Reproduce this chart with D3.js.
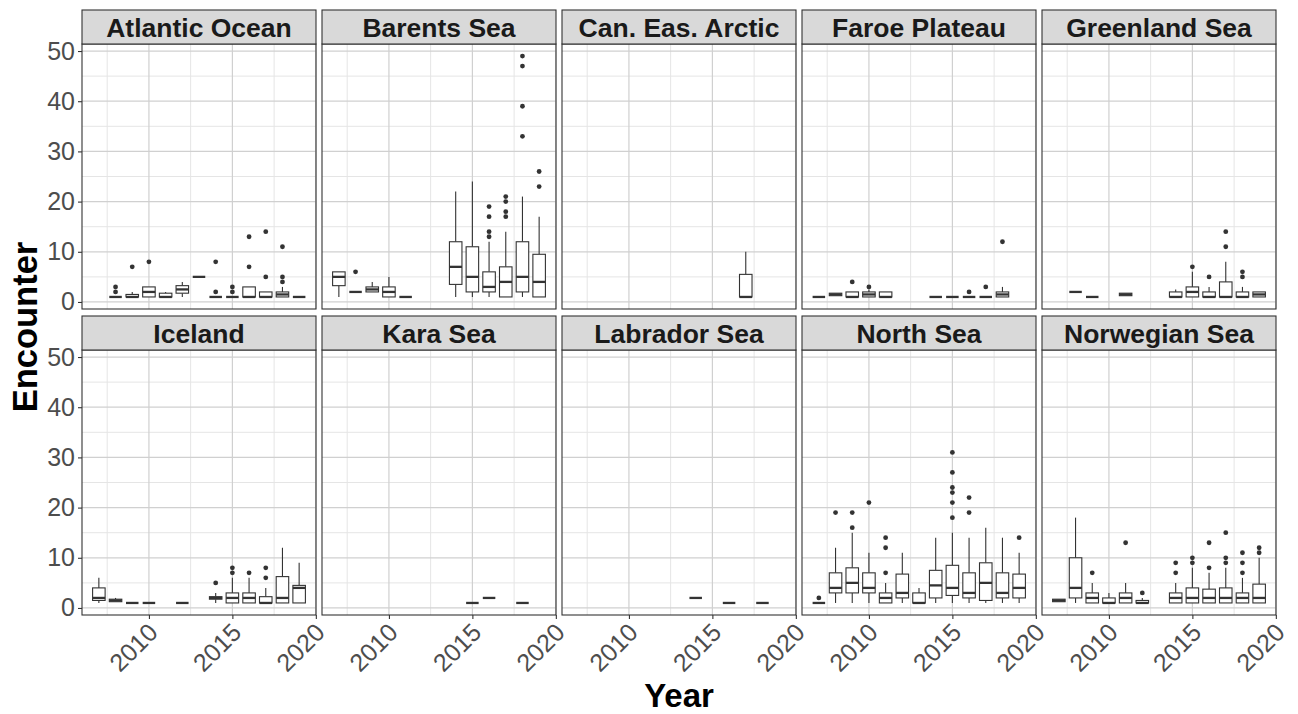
<!DOCTYPE html>
<html>
<head>
<meta charset="utf-8">
<script src="https://cdn.jsdelivr.net/npm/d3@7"></script>
<style>
  body { margin: 0; background: #fff; }
  svg { display: block; font-family: "Liberation Sans", Arial, sans-serif; }
</style>
</head>
<body>
<svg id="chart" width="1298" height="714"></svg>
<script>
// each row: [year, lowerWhisker, q1, median, q3, upperWhisker, outliers]
const atlanticOcean = [
  [2008, 1, 1, 1, 1, 1, [2, 3]],
  [2009, 1, 1, 1, 1.5, 2, [7]],
  [2010, 1, 1, 2, 3, 3, [8]],
  [2011, 1, 1, 1, 1.75, 2, []],
  [2012, 1, 1.75, 2.5, 3.25, 4, []],
  [2013, 5, 5, 5, 5, 5, []],
  [2014, 1, 1, 1, 1, 1, [2, 8]],
  [2015, 1, 1, 1, 1, 1, [2, 3]],
  [2016, 1, 1, 1, 3, 3, [7, 13]],
  [2017, 1, 1, 1, 2, 2, [5, 14]],
  [2018, 1, 1, 1.5, 2, 3, [4, 5, 11]],
  [2019, 1, 1, 1, 1, 1, []]
];
const barentsSea = [
  [2007, 1, 3.25, 5, 6, 6, []],
  [2008, 2, 2, 2, 2, 2, [6]],
  [2009, 2, 2, 2.5, 3, 4, []],
  [2010, 1, 1, 2, 3, 5, []],
  [2011, 1, 1, 1, 1, 1, []],
  [2014, 1, 3.5, 7, 12, 22, []],
  [2015, 1, 2, 5, 11, 24, []],
  [2016, 1, 2, 3, 6, 12, [13, 14, 17, 19]],
  [2017, 1, 1, 4, 7, 14, [17, 18, 20, 21]],
  [2018, 1, 2, 5, 12, 21, [33, 39, 47, 49]],
  [2019, 1, 1, 4, 9.5, 17, [23, 26]]
];
const canEasArctic = [
  [2017, 1, 1, 1, 5.5, 10, []]
];
const faroePlateau = [
  [2007, 1, 1, 1, 1, 1, []],
  [2008, 1.25, 1.25, 1.5, 1.75, 1.75, []],
  [2009, 1, 1, 1, 2, 2, [4]],
  [2010, 1, 1, 1.5, 2, 2.5, [3]],
  [2011, 1, 1, 1, 2, 2, []],
  [2014, 1, 1, 1, 1, 1, []],
  [2015, 1, 1, 1, 1, 1, []],
  [2016, 1, 1, 1, 1, 1, [2]],
  [2017, 1, 1, 1, 1, 1, [3]],
  [2018, 1, 1, 1.5, 2, 3, [12]]
];
const greenlandSea = [
  [2008, 2, 2, 2, 2, 2, []],
  [2009, 1, 1, 1, 1, 1, []],
  [2011, 1.25, 1.25, 1.5, 1.75, 1.75, []],
  [2014, 1, 1, 1, 2, 2.5, []],
  [2015, 1, 1, 2, 3, 6, [7]],
  [2016, 1, 1, 1, 2, 3, [5]],
  [2017, 1, 1, 1, 4, 8, [11, 14]],
  [2018, 1, 1, 1, 2, 3, [5, 6]],
  [2019, 1, 1, 1.5, 2, 2, []]
];
const iceland = [
  [2007, 1, 1.5, 2, 4, 6, []],
  [2008, 1.25, 1.25, 1.5, 1.75, 2, []],
  [2009, 1, 1, 1, 1, 1, []],
  [2010, 1, 1, 1, 1, 1, []],
  [2012, 1, 1, 1, 1, 1, []],
  [2014, 1, 1.75, 2, 2.25, 3, [5]],
  [2015, 1, 1, 2, 3, 6, [7, 8]],
  [2016, 1, 1, 2, 3, 6, [7]],
  [2017, 1, 1, 1, 2.25, 4, [6, 8]],
  [2018, 1, 1, 2, 6.25, 12, []],
  [2019, 1, 1, 4, 4.5, 9, []]
];
const karaSea = [
  [2015, 1, 1, 1, 1, 1, []],
  [2016, 2, 2, 2, 2, 2, []],
  [2018, 1, 1, 1, 1, 1, []]
];
const labradorSea = [
  [2014, 2, 2, 2, 2, 2, []],
  [2016, 1, 1, 1, 1, 1, []],
  [2018, 1, 1, 1, 1, 1, []]
];
const northSea = [
  [2007, 1, 1, 1, 1, 1, [2]],
  [2008, 1, 3, 4, 7, 12, [19]],
  [2009, 1, 3, 5, 8, 15, [16, 19]],
  [2010, 1, 3, 4, 7, 11, [21]],
  [2011, 1, 1, 2, 3, 5, [7, 12, 14]],
  [2012, 1, 2, 3, 6.75, 11, []],
  [2013, 1, 1, 1, 3, 4, []],
  [2014, 1, 2, 4.5, 7.5, 14, []],
  [2015, 1, 2.5, 4, 8.5, 15, [18, 21, 23, 24, 27, 31]],
  [2016, 1, 2, 3, 7, 14, [19, 22]],
  [2017, 1, 1.5, 5, 9, 16, []],
  [2018, 1, 2, 3, 7, 14, []],
  [2019, 1, 2, 4, 6.75, 11, [14]]
];
const norwegianSea = [
  [2007, 1.25, 1.25, 1.5, 1.75, 1.75, []],
  [2008, 1, 2, 4, 10, 18, []],
  [2009, 1, 1, 2, 3, 5, [7]],
  [2010, 1, 1, 1, 2, 3, []],
  [2011, 1, 1, 2, 3, 5, [13]],
  [2012, 1, 1, 1, 1.5, 2, [3]],
  [2014, 1, 1, 2, 3, 5, [7, 9]],
  [2015, 1, 1, 2, 4, 8, [9, 10]],
  [2016, 1, 1, 2, 3.75, 7, [8, 13]],
  [2017, 1, 1, 2, 4, 8, [9, 10, 15]],
  [2018, 1, 1, 2, 3, 6, [7, 9, 11]],
  [2019, 1, 1, 2, 4.75, 10, [11, 12]]
];

const regionNames = [
  "Atlantic Ocean", "Barents Sea", "Can. Eas. Arctic", "Faroe Plateau", "Greenland Sea",
  "Iceland", "Kara Sea", "Labrador Sea", "North Sea", "Norwegian Sea"
];
const regionData = [
  atlanticOcean, barentsSea, canEasArctic, faroePlateau, greenlandSea,
  iceland, karaSea, labradorSea, northSea, norwegianSea
];

const yTicks = [0, 10, 20, 30, 40, 50];
const yMinorTicks = [5, 15, 25, 35, 45];
const xTicks = [2010, 2015, 2020];
const xMinorTicks = [2007.5, 2012.5, 2017.5];

const svg = d3.select("#chart");

const left = 82;
const panelW = 234;
const gapX = 6;
const stripH = 34;
const panelH = 265;
const rowTops = [10, 316];
const boxWidth = 0.75;
const ink = "#333333";

const x = d3.scaleLinear().domain([2005.99, 2020.01]).range([0, panelW]);
const y = d3.scaleLinear().domain([-1.4, 51.4]).range([panelH, 0]);

regionNames.forEach((name, i) => {
  const col = i % 5;
  const row = Math.floor(i / 5);
  const px = left + col * (panelW + gapX);
  const stripTop = rowTops[row];
  const plotTop = stripTop + stripH;

  const panel = svg.append("g").attr("transform", `translate(${px},${plotTop})`);

  panel.append("rect")
    .attr("width", panelW)
    .attr("height", panelH)
    .attr("fill", "#fff");

  // minor grid
  panel.append("g")
    .selectAll("line")
    .data(yMinorTicks)
    .join("line")
    .attr("x1", 0).attr("x2", panelW)
    .attr("y1", (d) => y(d)).attr("y2", (d) => y(d))
    .attr("stroke", "#e5e5e5").attr("stroke-width", 1);
  panel.append("g")
    .selectAll("line")
    .data(xMinorTicks)
    .join("line")
    .attr("y1", 0).attr("y2", panelH)
    .attr("x1", (d) => x(d)).attr("x2", (d) => x(d))
    .attr("stroke", "#e5e5e5").attr("stroke-width", 1);

  // major grid
  panel.append("g")
    .selectAll("line")
    .data(yTicks)
    .join("line")
    .attr("x1", 0).attr("x2", panelW)
    .attr("y1", (d) => y(d)).attr("y2", (d) => y(d))
    .attr("stroke", "#d0d0d0").attr("stroke-width", 1.2);
  panel.append("g")
    .selectAll("line")
    .data(xTicks)
    .join("line")
    .attr("y1", 0).attr("y2", panelH)
    .attr("x1", (d) => x(d)).attr("x2", (d) => x(d))
    .attr("stroke", "#d0d0d0").attr("stroke-width", 1.2);

  const boxes = panel.append("g")
    .selectAll("g")
    .data(regionData[i])
    .join("g");

  const half = (x(boxWidth) - x(0)) / 2;

  boxes.append("line")
    .attr("x1", (d) => x(d[0])).attr("x2", (d) => x(d[0]))
    .attr("y1", (d) => y(d[1])).attr("y2", (d) => y(d[2]))
    .attr("stroke", ink).attr("stroke-width", 1.1);
  boxes.append("line")
    .attr("x1", (d) => x(d[0])).attr("x2", (d) => x(d[0]))
    .attr("y1", (d) => y(d[4])).attr("y2", (d) => y(d[5]))
    .attr("stroke", ink).attr("stroke-width", 1.1);
  boxes.append("rect")
    .attr("x", (d) => x(d[0]) - half)
    .attr("width", half * 2)
    .attr("y", (d) => y(d[4]))
    .attr("height", (d) => y(d[2]) - y(d[4]))
    .attr("fill", "#fff")
    .attr("stroke", ink).attr("stroke-width", 1.1);
  boxes.append("line")
    .attr("x1", (d) => x(d[0]) - half).attr("x2", (d) => x(d[0]) + half)
    .attr("y1", (d) => y(d[3])).attr("y2", (d) => y(d[3]))
    .attr("stroke", ink).attr("stroke-width", 2.3);
  boxes.selectAll("circle")
    .data((d) => d[6].map((v) => [d[0], v]))
    .join("circle")
    .attr("cx", (d) => x(d[0]))
    .attr("cy", (d) => y(d[1]))
    .attr("r", 2.4)
    .attr("fill", ink);

  panel.append("rect")
    .attr("width", panelW)
    .attr("height", panelH)
    .attr("fill", "none")
    .attr("stroke", ink).attr("stroke-width", 1.1);

  // strip
  svg.append("rect")
    .attr("x", px).attr("y", stripTop)
    .attr("width", panelW).attr("height", stripH)
    .attr("fill", "#d9d9d9")
    .attr("stroke", ink).attr("stroke-width", 1.1);
  svg.append("text")
    .attr("x", px + panelW / 2).attr("y", stripTop + 26.5)
    .attr("text-anchor", "middle")
    .attr("font-size", 26.5).attr("font-weight", "bold")
    .attr("fill", "#1a1a1a")
    .text(name);

  if (col === 0) {
    const yAxis = panel.append("g")
      .call(d3.axisLeft(y).tickValues(yTicks).tickSize(4).tickPadding(3));
    yAxis.select(".domain").remove();
    yAxis.selectAll(".tick line").attr("stroke", ink).attr("stroke-width", 1.1);
    yAxis.selectAll(".tick text")
      .attr("font-size", 25)
      .attr("font-family", "Liberation Sans, Arial, sans-serif")
      .attr("fill", "#4d4d4d");
  }

  if (row === 1) {
    const xAxis = panel.append("g")
      .attr("transform", `translate(0,${panelH})`)
      .call(d3.axisBottom(x).tickValues(xTicks).tickFormat(d3.format("d")).tickSize(4));
    xAxis.select(".domain").remove();
    xAxis.selectAll(".tick line").attr("stroke", ink).attr("stroke-width", 1.1);
    xAxis.selectAll(".tick text")
      .attr("y", null).attr("dy", null)
      .attr("text-anchor", "end")
      .attr("transform", "translate(10,19) rotate(-45)")
      .attr("font-size", 25)
      .attr("font-family", "Liberation Sans, Arial, sans-serif")
      .attr("fill", "#4d4d4d");
  }
});

svg.append("text")
  .attr("transform", "translate(37,327) rotate(-90)")
  .attr("text-anchor", "middle")
  .attr("font-size", 34.5).attr("font-weight", "bold")
  .text("Encounter");

svg.append("text")
  .attr("x", 679).attr("y", 707)
  .attr("text-anchor", "middle")
  .attr("font-size", 33).attr("font-weight", "bold")
  .text("Year");
</script>
</body>
</html>
